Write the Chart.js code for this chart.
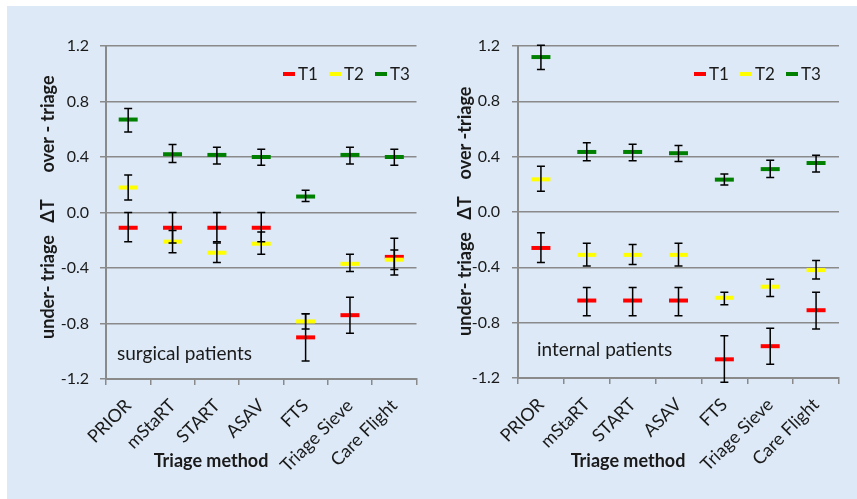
<!DOCTYPE html>
<html>
<head>
<meta charset="utf-8">
<script src="https://cdn.jsdelivr.net/npm/chart.js@4.4.1/dist/chart.umd.min.js"></script>
<style>
  html, body { margin: 0; padding: 0; background: #fff; }
  #wrap { position: relative; width: 857px; height: 499px; overflow: hidden; }
  #bg { position: absolute; left: 7px; top: 6px; right: 0; bottom: 0; background: #dde9f6; }
  canvas { position: absolute; top: 0; }
</style>
</head>
<body>
<div id="wrap">
  <div id="bg"></div>
  <canvas id="chartLeft" width="430" height="499" style="left:0"></canvas>
  <canvas id="chartRight" width="427" height="499" style="left:430px"></canvas>
</div>
<script>
// ===== DONNEES =====
const methodes = ['PRIOR', 'mStaRT', 'START', 'ASAV', 'FTS', 'Triage Sieve', 'Care Flight']
const series = ['T1', 'T2', 'T3']
const couleurs = ['#ff0000', '#ffff00', '#008000']

// surgical patients
const chirT1 = [-0.11, -0.11, -0.11, -0.11, -0.90, -0.74, -0.32]
const chirT1Bas = [-0.21, -0.22, -0.21, -0.21, -1.07, -0.87, -0.45]
const chirT1Haut = [0.0, 0.0, 0.0, 0.0, -0.73, -0.61, -0.185]
const chirT2 = [0.18, -0.21, -0.29, -0.225, -0.785, -0.37, -0.34]
const chirT2Bas = [0.09, -0.29, -0.36, -0.30, -0.84, -0.425, -0.41]
const chirT2Haut = [0.27, -0.13, -0.22, -0.14, -0.73, -0.30, -0.27]
const chirT3 = [0.67, 0.42, 0.415, 0.40, 0.115, 0.415, 0.40]
const chirT3Bas = [0.58, 0.36, 0.35, 0.34, 0.08, 0.35, 0.34]
const chirT3Haut = [0.75, 0.49, 0.47, 0.455, 0.16, 0.47, 0.455]

// internal patients
const intT1 = [-0.26, -0.64, -0.64, -0.64, -1.065, -0.97, -0.71]
const intT1Bas = [-0.365, -0.75, -0.75, -0.75, -1.23, -1.10, -0.845]
const intT1Haut = [-0.15, -0.545, -0.545, -0.545, -0.895, -0.84, -0.58]
const intT2 = [0.236, -0.31, -0.31, -0.31, -0.62, -0.54, -0.42]
const intT2Bas = [0.15, -0.39, -0.38, -0.39, -0.67, -0.61, -0.485]
const intT2Haut = [0.33, -0.225, -0.235, -0.225, -0.58, -0.487, -0.35]
const intT3 = [1.12, 0.434, 0.434, 0.425, 0.234, 0.31, 0.354]
const intT3Bas = [1.03, 0.37, 0.37, 0.365, 0.195, 0.25, 0.29]
const intT3Haut = [1.205, 0.50, 0.49, 0.48, 0.275, 0.375, 0.41]

const yMin = -1.2
const yMax = 1.2
const yPas = 0.4

const police = 'Lato, "DejaVu Sans", sans-serif'
const gris = '#8a8a8a'

// ===== PLUGIN : barres d'erreur + textes =====
const decorPlugin = {
  id: 'decor',
  afterDatasetsDraw(chart) {
    const ctx = chart.ctx
    const xs = chart.scales.x, ys = chart.scales.y
    const erreurs = chart.options.plugins.decor.erreurs
    ctx.save()
    ctx.strokeStyle = '#000'
    ctx.lineWidth = 1.5
    erreurs.forEach(([bas, haut]) => {
      bas.forEach((b, j) => {
        const x = xs.getPixelForValue(j)
        const y1 = ys.getPixelForValue(b)
        const y2 = ys.getPixelForValue(haut[j])
        ctx.beginPath()
        ctx.moveTo(x, y1); ctx.lineTo(x, y2)
        ctx.moveTo(x - 4, y1); ctx.lineTo(x + 4, y1)
        ctx.moveTo(x - 4, y2); ctx.lineTo(x + 4, y2)
        ctx.stroke()
      })
    })
    ctx.restore()
  },
  afterDraw(chart) {
    const o = chart.options.plugins.decor
    const ctx = chart.ctx
    ctx.save()
    ctx.fillStyle = '#1a1a1a'

    // legende
    ctx.font = '17px ' + police
    ctx.textBaseline = 'middle'
    ctx.textAlign = 'left'
    series.forEach((s, i) => {
      const x = o.legX + i * 46
      ctx.fillStyle = couleurs[i]
      ctx.fillRect(x, o.legY - 2, 12, 4)
      ctx.fillStyle = '#1a1a1a'
      ctx.fillText(s, x + 15, o.legY + 1)
    })

    // titres axe y
    ctx.font = 'bold 18px ' + police
    ctx.textAlign = 'center'
    ;[[o.over, o.overY], ['\u0394T', o.dtY], [o.under, o.underY]].forEach(([t, y]) => {
      ctx.save()
      ctx.translate(o.yTitleX, y)
      ctx.rotate(-Math.PI / 2)
      ctx.fillText(t, 0, 0)
      ctx.restore()
    })

    // titre axe x
    ctx.fillText('Triage method', o.xTitleX, o.xTitleY)

    // note
    ctx.font = '19px ' + police
    ctx.textAlign = 'left'
    ctx.fillText(o.note, o.noteX, o.noteY)
    ctx.restore()
  }
}

function creerGraphique(id, valeurs, erreurs, cfg) {
  return new Chart(document.getElementById(id), {
    type: 'line',
    data: {
      labels: methodes,
      datasets: series.map((s, i) => ({
        label: s,
        data: valeurs[i],
        showLine: false,
        pointStyle: 'line',
        pointRadius: 9.5,
        pointHoverRadius: 9.5,
        borderWidth: 4,
        pointBorderWidth: 4,
        borderColor: couleurs[i],
        backgroundColor: couleurs[i],
        order: 3 - i,
        clip: false
      }))
    },
    options: {
      responsive: false,
      animation: false,
      devicePixelRatio: 1,
      layout: { padding: { top: 46, right: cfg.padRight, left: 0, bottom: 0 } },
      plugins: {
        legend: { display: false },
        tooltip: { enabled: false },
        decor: Object.assign({ erreurs: erreurs }, cfg)
      },
      scales: {
        x: {
          offset: true,
          afterFit(scale) { scale.height = cfg.xHeight },
          grid: { offset: true, drawOnChartArea: false, color: gris, lineWidth: 1.5, tickLength: 6 },
          border: { color: gris, width: 2 },
          ticks: {
            minRotation: 45, maxRotation: 45, autoSkip: false, padding: 10,
            color: '#1a1a1a', font: { family: police, size: 18 }
          }
        },
        y: {
          min: yMin, max: yMax,
          afterFit(scale) { scale.width = cfg.axisWidth },
          afterBuildTicks(scale) {
            const t = []
            for (let k = 0; k <= Math.round((yMax - yMin) / yPas); k++) t.push({ value: +(yMin + k * yPas).toFixed(1) })
            scale.ticks = t
          },
          grid: { color: gris, lineWidth: 1.5, tickLength: 6 },
          border: { color: gris, width: 2 },
          ticks: {
            padding: cfg.tickPad,
            color: '#1a1a1a',
            font: { family: police, size: 16 },
            callback: v => v.toFixed(1)
          }
        }
      }
    },
    plugins: [decorPlugin]
  })
}

creerGraphique('chartLeft',
  [chirT1, chirT2, chirT3],
  [[chirT1Bas, chirT1Haut], [chirT2Bas, chirT2Haut], [chirT3Bas, chirT3Haut]],
  {
    padRight: 9, axisWidth: 106, xHeight: 120, tickPad: 11,
    yTitleX: 48, over: 'over - triage', overY: 124, dtY: 211, under: 'under- triage', underY: 287,
    legX: 283, legY: 74, xTitleX: 211, xTitleY: 461,
    note: 'surgical patients', noteX: 117, noteY: 354
  })

creerGraphique('chartRight',
  [intT1, intT2, intT3],
  [[intT1Bas, intT1Haut], [intT2Bas, intT2Haut], [intT3Bas, intT3Haut]],
  {
    padRight: 18, axisWidth: 88, xHeight: 121, tickPad: 12,
    yTitleX: 35, over: 'over -triage', overY: 133, dtY: 208, under: 'under- triage', underY: 284,
    legX: 264, legY: 74, xTitleX: 198, xTitleY: 461,
    note: 'internal patients', noteX: 107, noteY: 350
  })
</script>
</body>
</html>
